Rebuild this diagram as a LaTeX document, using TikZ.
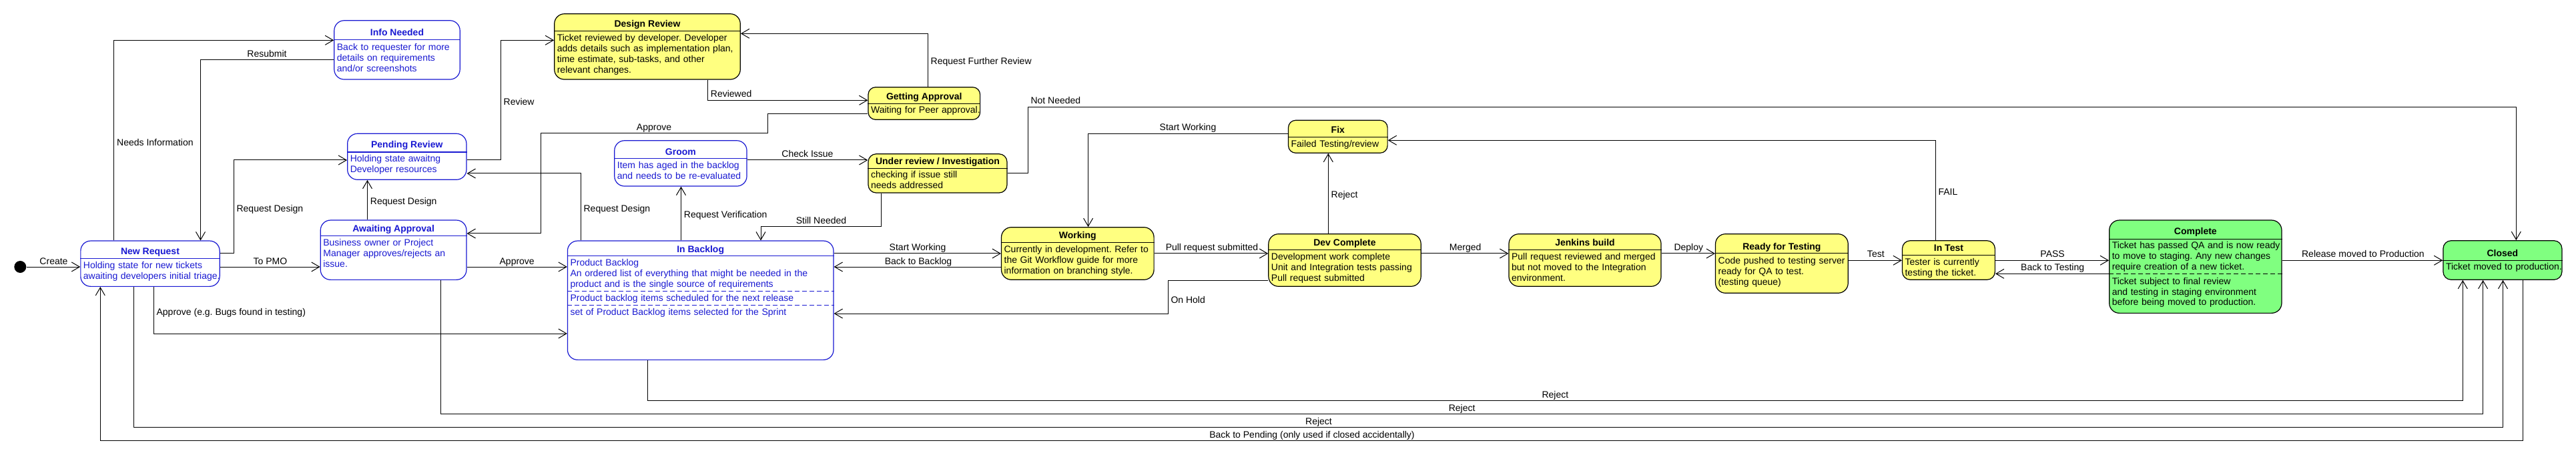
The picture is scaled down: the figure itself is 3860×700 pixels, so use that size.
\documentclass[tikz,border=0pt]{standalone}
\usepackage{fontspec}
\setmainfont{Liberation Sans}
\usetikzlibrary{arrows.meta}
\definecolor{stblue}{RGB}{25,25,210}
\definecolor{styellow}{RGB}{255,255,128}
\definecolor{stgreen}{RGB}{128,255,128}
\frenchspacing

\begin{document}
\begin{tikzpicture}[x=1pt, y=-1pt, font=\fontsize{14}{16}\selectfont,
  stbox/.style={line width=1.2pt, rounded corners=15pt, inner sep=0pt},
  bstate/.style={stbox, draw=stblue, fill=white},
  ystate/.style={stbox, draw=black, fill=styellow},
  gstate/.style={stbox, draw=black, fill=stgreen},
  sttitle/.style={anchor=base, inner sep=0pt, font=\fontsize{14}{16}\selectfont\bfseries},
  btitle/.style={sttitle, text=stblue},
  stbody/.style={anchor=base west, xshift=4.5pt, inner sep=0pt, text width=440pt, align=left},
  bbody/.style={stbody, text=stblue},
  bdiv/.style={line width=1.2pt, draw=stblue},
  ydiv/.style={line width=1.2pt, draw=black},
  trans/.style={line width=1pt, -{Straight Barb[length=12pt,width=14pt]}},
  lbl/.style={anchor=base, inner sep=0pt},
  vlbl/.style={anchor=base west, inner sep=0pt}]
\useasboundingbox (0,0) rectangle (3860,700);

% start
\node[circle, fill=black, minimum size=18pt, inner sep=0pt] (init) at (30.3,400) {};

% blue states
\node[bstate, minimum width=208.3pt, minimum height=68.3pt] (newreq) at (225,395.2) {};
\draw[bdiv] (newreq.west |- 0,387.3) -- (newreq.east |- 0,387.3);
\node[btitle] (newreq-t) at (newreq.north |- 0,381.7) {New Request};
\node[bbody] (newreq-b) at (newreq.west |- 0,402.3) {Holding state for new tickets\\awaiting developers initial triage.};

\node[bstate, minimum width=188.4pt, minimum height=88.3pt] (info) at (595,74.9) {};
\draw[bdiv] (info.west |- 0,59.3) -- (info.east |- 0,59.3);
\node[btitle] (info-t) at (info.north |- 0,53.3) {Info Needed};
\node[bbody] (info-b) at (info.west |- 0,75.3) {Back to requester for more\\details on requirements\\and/or screenshots};

\node[bstate, minimum width=178.3pt, minimum height=69pt] (pend) at (609.8,234.8) {};
\draw[bdiv] (pend.west |- 0,228) -- (pend.east |- 0,228);
\node[btitle] (pend-t) at (pend.north |- 0,221.7) {Pending Review};
\node[bbody] (pend-b) at (pend.west |- 0,242.3) {Holding state awaitng\\Developer resources};

\node[bstate, minimum width=218.7pt, minimum height=89.3pt] (await) at (589.6,374.7) {};
\draw[bdiv] (await.west |- 0,353.3) -- (await.east |- 0,353.3);
\node[btitle] (await-t) at (await.north |- 0,347.5) {Awaiting Approval};
\node[bbody] (await-b) at (await.west |- 0,369) {Business owner or Project\\Manager approves/rejects an\\issue.};

\node[bstate, minimum width=198.3pt, minimum height=68.3pt] (groom) at (1019.9,244.9) {};
\draw[bdiv] (groom.west |- 0,237.7) -- (groom.east |- 0,237.7);
\node[btitle] (groom-t) at (groom.north |- 0,232.3) {Groom};
\node[bbody] (groom-b) at (groom.west |- 0,252.3) {Item has aged in the backlog\\and needs to be re-evaluated};

\node[bstate, minimum width=398.6pt, minimum height=178.3pt] (backlog) at (1049.7,450.2) {};
\draw[bdiv] (backlog.west |- 0,383.3) -- (backlog.east |- 0,383.3);
\draw[bdiv, dash pattern=on 7pt off 4pt] (backlog.west |- 0,436.3) -- (backlog.east |- 0,436.3);
\draw[bdiv, dash pattern=on 7pt off 4pt] (backlog.west |- 0,457.3) -- (backlog.east |- 0,457.3);
\node[btitle] (backlog-t) at (backlog.north |- 0,378) {In Backlog};
\node[bbody] (backlog-b1) at (backlog.west |- 0,399) {Product Backlog\\An ordered list of everything that might be needed in the\\product and is the single source of requirements};
\node[bbody] (backlog-b2) at (backlog.west |- 0,451.7) {Product backlog items scheduled for the next release};
\node[bbody] (backlog-b3) at (backlog.west |- 0,472.7) {set of Product Backlog items selected for the Sprint};

% yellow states
\node[ystate, minimum width=278.6pt, minimum height=98.3pt] (design) at (970,69.9) {};
\draw[ydiv] (design.west |- 0,46.3) -- (design.east |- 0,46.3);
\node[sttitle] (design-t) at (design.north |- 0,40.7) {Design Review};
\node[stbody] (design-b) at (design.west |- 0,61.7) {Ticket reviewed by developer. Developer\\adds details such as implementation plan,\\time estimate, sub-tasks, and other\\relevant changes.};

\node[ystate, rounded corners=11pt, minimum width=167.6pt, minimum height=48.6pt] (getapp) at (1384.8,155) {};
\draw[ydiv] (getapp.west |- 0,155.3) -- (getapp.east |- 0,155.3);
\node[sttitle] (getapp-t) at (getapp.north |- 0,150) {Getting Approval};
\node[stbody] (getapp-b) at (getapp.west |- 0,170) {Waiting for Peer approval.};

\node[ystate, rounded corners=12pt, minimum width=208pt, minimum height=58.3pt] (underrev) at (1405,259.9) {};
\draw[ydiv] (underrev.west |- 0,252.7) -- (underrev.east |- 0,252.7);
\node[sttitle] (underrev-t) at (underrev.north |- 0,246.7) {Under review / Investigation};
\node[stbody] (underrev-b) at (underrev.west |- 0,266.7) {checking if issue still\\needs addressed};

\node[ystate, minimum width=228.6pt, minimum height=78.6pt] (working) at (1614.8,380) {};
\draw[ydiv] (working.west |- 0,363.3) -- (working.east |- 0,363.3);
\node[sttitle] (working-t) at (working.north |- 0,357.3) {Working};
\node[stbody] (working-b) at (working.west |- 0,379) {Currently in development. Refer to\\the Git Workflow guide for more\\information on branching style.};

\node[ystate, rounded corners=11pt, minimum width=148.6pt, minimum height=49pt] (fix) at (2004.8,204.8) {};
\draw[ydiv] (fix.west |- 0,205.7) -- (fix.east |- 0,205.7);
\node[sttitle] (fix-t) at (fix.north |- 0,200) {Fix};
\node[stbody] (fix-b) at (fix.west |- 0,220.7) {Failed Testing/review};

\node[ystate, minimum width=228.4pt, minimum height=78.6pt] (devc) at (2015,390) {};
\draw[ydiv] (devc.west |- 0,374.3) -- (devc.east |- 0,374.3);
\node[sttitle] (devc-t) at (devc.north |- 0,369) {Dev Complete};
\node[stbody] (devc-b) at (devc.west |- 0,390) {Development work complete\\Unit and Integration tests passing\\Pull request submitted};

\node[ystate, minimum width=228.1pt, minimum height=78.6pt] (jenk) at (2375,390) {};
\draw[ydiv] (jenk.west |- 0,374.3) -- (jenk.east |- 0,374.3);
\node[sttitle] (jenk-t) at (jenk.north |- 0,369) {Jenkins build};
\node[stbody] (jenk-b) at (jenk.west |- 0,390) {Pull request reviewed and merged\\but not moved to the Integration\\environment.};

\node[ystate, minimum width=198.7pt, minimum height=88.6pt] (ready) at (2669.9,395) {};
\draw[ydiv] (ready.west |- 0,379.3) -- (ready.east |- 0,379.3);
\node[sttitle] (ready-t) at (ready.north |- 0,374) {Ready for Testing};
\node[stbody] (ready-b) at (ready.west |- 0,395.3) {Code pushed to testing server\\ready for QA to test.\\(testing queue)};

\node[ystate, rounded corners=12pt, minimum width=138.9pt, minimum height=58.6pt] (intest) at (2919.9,390) {};
\draw[ydiv] (intest.west |- 0,382.3) -- (intest.east |- 0,382.3);
\node[sttitle] (intest-t) at (intest.north |- 0,377) {In Test};
\node[stbody] (intest-b) at (intest.west |- 0,397.3) {Tester is currently\\testing the ticket.};

% green states
\node[gstate, minimum width=258.3pt, minimum height=139.3pt] (compl) at (3289.8,399.7) {};
\draw[ydiv] (compl.west |- 0,358.3) -- (compl.east |- 0,358.3);
\draw[ydiv, dash pattern=on 7pt off 4pt] (compl.west |- 0,410.3) -- (compl.east |- 0,410.3);
\node[sttitle] (compl-t) at (compl.north |- 0,351.7) {Complete};
\node[stbody] (compl-b1) at (compl.west |- 0,372.7) {Ticket has passed QA and is now ready\\to move to staging. Any new changes\\require creation of a new ticket.};
\node[stbody] (compl-b2) at (compl.west |- 0,426) {Ticket subject to final review\\and testing in staging environment\\before being moved to production.};

\node[gstate, rounded corners=12pt, minimum width=178pt, minimum height=58.6pt] (closed) at (3749.9,390) {};
\draw[ydiv] (closed.west |- 0,390.3) -- (closed.east |- 0,390.3);
\node[sttitle] (closed-t) at (closed.north |- 0,384.3) {Closed};
\node[stbody] (closed-b) at (closed.west |- 0,404.3) {Ticket moved to production.};

% transitions
\draw[trans] (init.east) -- (newreq.west |- init.east);
\draw[trans] (newreq.north -| 170.5,0) |- (info.west |- 0,60.3);
\draw[trans] (info.west |- 0,90) -| (newreq.north -| 300.5,0);
\draw[trans] (newreq.east |- 0,380) -| (350.6,240) -- (pend.west |- 0,240);
\draw[trans] (await.north -| 550.5,0) -- (pend.south -| 550.5,0);
\draw[trans] (newreq.east |- 0,400) -- (await.west |- 0,400);
\draw[trans] (newreq.south -| 230.2,0) |- (backlog.west |- 0,500);
\draw[trans] (await.east |- 0,400) -- (backlog.west |- 0,400);
\draw[trans] (pend.east |- 0,240) -| (750.3,60.3) -- (design.west |- 0,60.3);
\draw[trans] (design.south -| 1060.5,0) |- (getapp.west |- 0,150.3);
\draw[trans] (getapp.north -| 1390.3,0) |- (design.east |- 0,50.3);
\draw[trans] (getapp.west |- 0,170.3) -| (1150,200) -| (810.5,350) -- (await.east |- 0,350);
\draw[trans] (groom.east |- 0,240) -- (underrev.west |- 0,240);
\draw[trans] (backlog.north -| 870.2,0) |- (pend.east |- 0,260);
\draw[trans] (backlog.north -| 1020.5,0) -- (groom.south -| 1020.5,0);
\draw[trans] (underrev.south -| 1320.4,0) |- (1140,340) -- (backlog.north -| 1140,0);
\draw[trans] (underrev.east |- 0,260) -| (1540,160.3) -| (closed.north -| 3770.3,0);
\draw[trans] (fix.west |- 0,200.3) -| (working.north -| 1630.6,0);
\draw[trans] (backlog.east |- 0,380) -- (working.west |- 0,380);
\draw[trans] (working.west |- 0,400) -- (backlog.east |- 0,400);
\draw[trans] (working.east |- 0,380) -- (devc.west |- 0,380);
\draw[trans] (devc.west |- 0,420.3) -| (1750.1,470) -- (backlog.east |- 0,470);
\draw[trans] (devc.north -| 1990.3,0) -- (fix.south -| 1990.3,0);
\draw[trans] (devc.east |- 0,380) -- (jenk.west |- 0,380);
\draw[trans] (jenk.east |- 0,380) -- (ready.west |- 0,380);
\draw[trans] (ready.east |- 0,390.3) -- (intest.west |- 0,390.3);
\draw[trans] (intest.north -| 2900.1,0) |- (fix.east |- 0,210.3);
\draw[trans] (intest.east |- 0,390.3) -- (compl.west |- 0,390.3);
\draw[trans] (compl.west |- 0,410.3) -- (intest.east |- 0,410.3);
\draw[trans] (compl.east |- 0,390.3) -- (closed.west |- 0,390.3);
\draw[trans] (backlog.south -| 970.4,0) |- (3690.3,600) -- (closed.south -| 3690.3,0);
\draw[trans] (await.south -| 660.6,0) |- (3720.6,620) -- (closed.south -| 3720.6,0);
\draw[trans] (newreq.south -| 200.8,0) |- (3750.5,640) -- (closed.south -| 3750.5,0);
\draw[trans] (closed.south -| 3780.8,0) |- (150.3,660) -- (newreq.south -| 150.3,0);

% labels
\node[lbl] (l-create) at (80.5,396) {Create};
\node[vlbl] (l-needs) at (175,219) {Needs Information};
\node[lbl] (l-resub) at (400,86) {Resubmit};
\node[vlbl] (l-rd1) at (354.4,317.5) {Request Design};
\node[vlbl] (l-rd2) at (554.7,307) {Request Design};
\node[lbl] (l-pmo) at (405,396) {To PMO};
\node[vlbl] (l-bugs) at (234.4,472) {Approve (e.g. Bugs found in testing)};
\node[lbl] (l-appr1) at (774.7,396) {Approve};
\node[vlbl] (l-review) at (754.5,158) {Review};
\node[vlbl] (l-reviewed) at (1064.7,146) {Reviewed};
\node[vlbl] (l-further) at (1394.5,97) {Request Further Review};
\node[lbl] (l-appr2) at (980,196) {Approve};
\node[lbl] (l-check) at (1210,236) {Check Issue};
\node[vlbl] (l-rd3) at (874.4,317.5) {Request Design};
\node[vlbl] (l-verif) at (1024.7,327) {Request Verification};
\node[lbl] (l-still) at (1230.5,336) {Still Needed};
\node[vlbl] (l-notneed) at (1544.3,156) {Not Needed};
\node[lbl] (l-start1) at (1780,196) {Start Working};
\node[lbl] (l-start2) at (1375,376) {Start Working};
\node[lbl] (l-back) at (1376,396) {Back to Backlog};
\node[lbl] (l-pull) at (1816,376) {Pull request submitted};
\node[vlbl] (l-hold) at (1754.3,454) {On Hold};
\node[vlbl] (l-rej0) at (1994.5,297) {Reject};
\node[vlbl] (l-fail) at (2904.3,293) {FAIL};
\node[lbl] (l-merged) at (2195.7,376) {Merged};
\node[lbl] (l-deploy) at (2530.3,376) {Deploy};
\node[lbl] (l-test) at (2810.8,386) {Test};
\node[lbl] (l-pass) at (3075.6,386) {PASS};
\node[lbl] (l-backtest) at (3075.6,406) {Back to Testing};
\node[lbl] (l-release) at (3540.9,386) {Release moved to Production};
\node[lbl] (l-rej1) at (2330.4,596) {Reject};
\node[lbl] (l-rej2) at (2190.6,616) {Reject};
\node[lbl] (l-rej3) at (1976,636) {Reject};
\node[lbl] (l-pending) at (1966,656) {Back to Pending (only used if closed accidentally)};
\end{tikzpicture}
\end{document}
